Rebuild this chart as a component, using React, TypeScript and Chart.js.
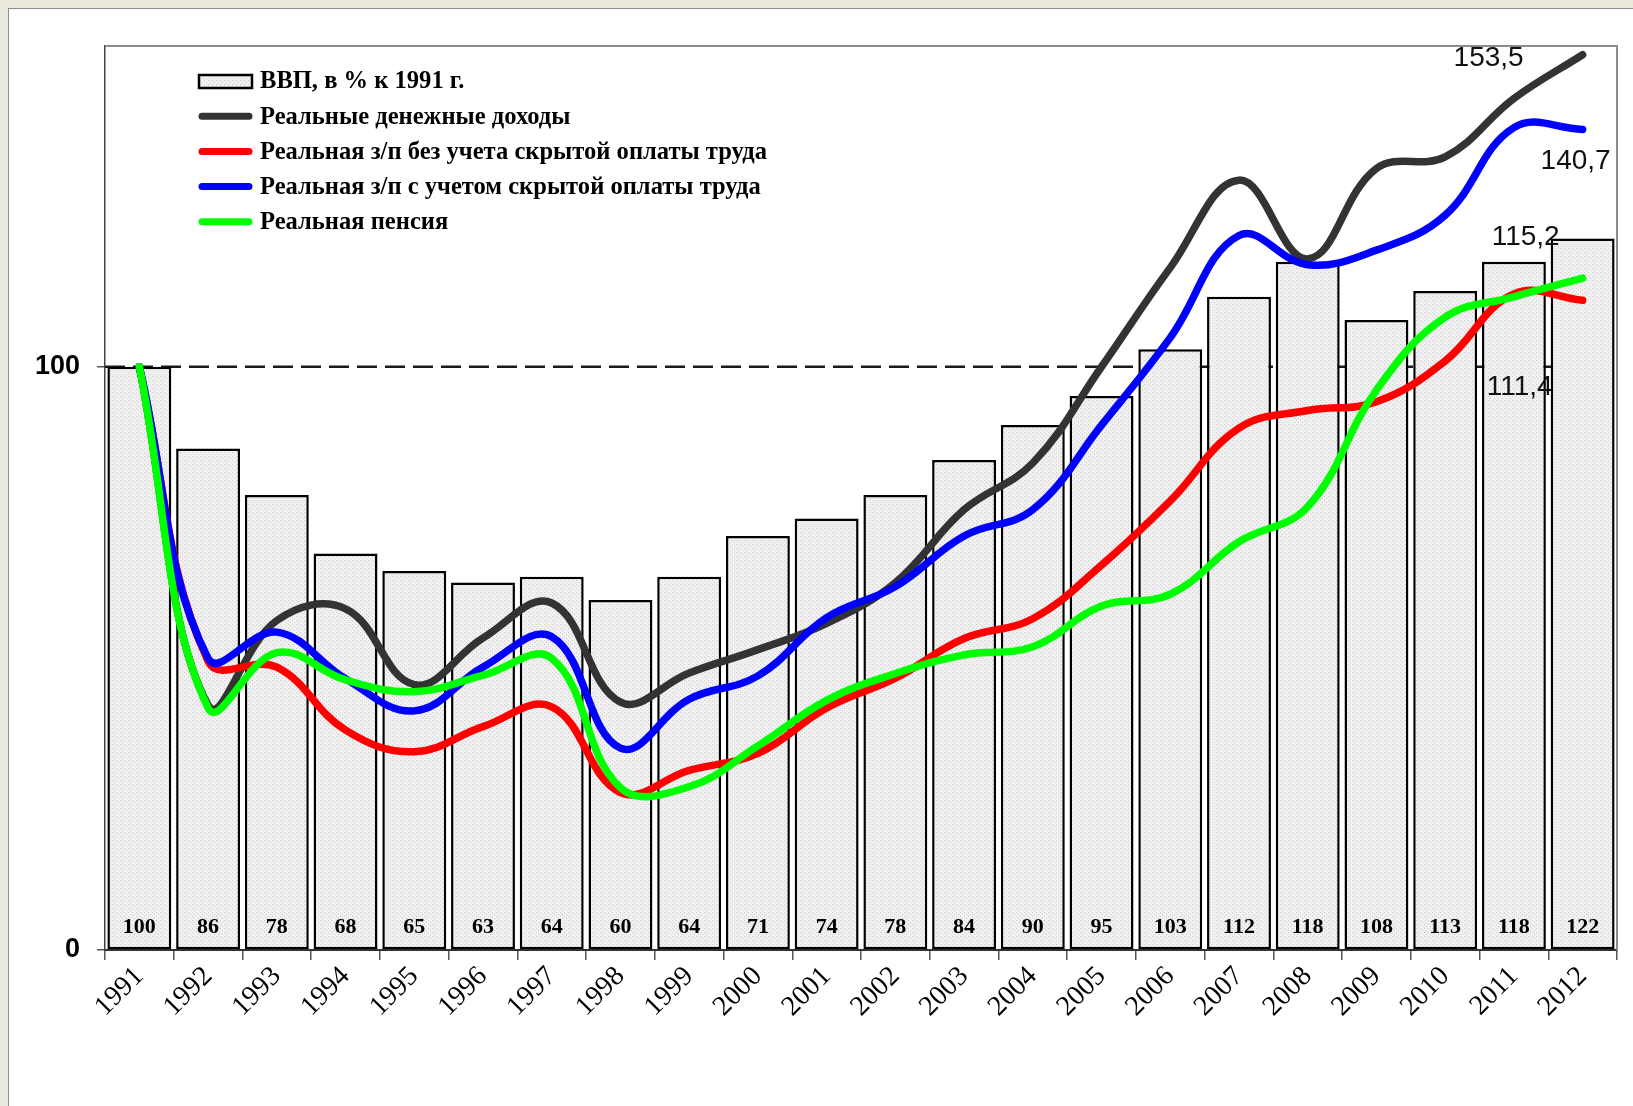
import React, { useEffect, useRef } from "react";
import { Chart, registerables } from "chart.js";

Chart.register(...registerables);

const years = ["1991", "1992", "1993", "1994", "1995", "1996", "1997", "1998", "1999", "2000", "2001", "2002", "2003", "2004", "2005", "2006", "2007", "2008", "2009", "2010", "2011", "2012"];
const gdp = [100, 86, 78, 68, 65, 63, 64, 60, 64, 71, 74, 78, 84, 90, 95, 103, 112, 118, 108, 113, 118, 122];
const incomes = [100, 42, 56.5, 58.5, 45.5, 53.5, 59.5, 42.5, 47.5, 51.5, 56, 63, 75.5, 83.5, 100, 117, 132, 118.5, 134, 136, 146, 153.5];
const wageNoHidden = [100, 49.5, 48.5, 37.7, 34, 38.3, 41.7, 27, 30.8, 33.7, 41.5, 46.6, 53.4, 56.8, 66, 77, 89.5, 92.5, 94, 101, 112.5, 111.4];
const wageHidden = [100, 50, 54.5, 46.5, 41, 48.5, 53.7, 34.6, 43, 47, 57, 62.3, 71, 75.5, 90, 105, 122.5, 117.5, 120, 126, 141, 140.7];
const pension = [100, 41.5, 51, 46.3, 44.3, 47.1, 50, 27.8, 28, 35, 42.8, 47.4, 50.6, 52, 59, 61, 70, 76, 96, 108.5, 112, 115.2];

const gdpLabel = "ВВП, в % к 1991 г.";
const incomesLabel = "Реальные денежные доходы";
const wageNoHiddenLabel = "Реальная з/п без учета скрытой оплаты труда";
const wageHiddenLabel = "Реальная з/п с учетом скрытой оплаты труда";
const pensionLabel = "Реальная пенсия";

const yTickValues = [0, 100];
const referenceLevel = 100;
const yMax = 155;

function makePattern(): CanvasPattern | string {
  const c = document.createElement("canvas");
  c.width = 4;
  c.height = 4;
  const g = c.getContext("2d");
  if (!g) return "#eaeaea";
  g.fillStyle = "#f1f1f1";
  g.fillRect(0, 0, 4, 4);
  g.fillStyle = "#cdcdcd";
  g.fillRect(0, 0, 1, 1);
  g.fillRect(2, 2, 1, 1);
  return g.createPattern(c, "repeat") || "#eaeaea";
}

const fmt = (v: number) => String(v).replace(".", ",");

export default function App() {
  const ref = useRef<HTMLCanvasElement | null>(null);

  useEffect(() => {
    const canvas = ref.current;
    if (!canvas) return;
    const pattern = makePattern();

    const backgroundPlugin = {
      id: "refLineAndFrame",
      beforeDatasetsDraw(chart: any) {
        const { ctx, chartArea, scales } = chart;
        ctx.save();
        ctx.strokeStyle = "#8c8c8c";
        ctx.lineWidth = 2;
        ctx.beginPath();
        ctx.moveTo(chartArea.left, chartArea.top);
        ctx.lineTo(chartArea.right, chartArea.top);
        ctx.lineTo(chartArea.right, chartArea.bottom);
        ctx.stroke();
        const y = scales.y.getPixelForValue(referenceLevel);
        ctx.strokeStyle = "#1a1a1a";
        ctx.lineWidth = 2.5;
        ctx.setLineDash([20, 8]);
        ctx.beginPath();
        ctx.moveTo(chartArea.left, y);
        ctx.lineTo(chartArea.right, y);
        ctx.stroke();
        ctx.restore();
      },
    };

    const labelsPlugin = {
      id: "labelsAndLegend",
      afterDatasetsDraw(chart: any) {
        const { ctx, chartArea } = chart;
        ctx.save();
        const barMeta = chart.getDatasetMeta(0);
        ctx.font = "bold 22px 'Liberation Serif', 'Times New Roman', serif";
        ctx.fillStyle = "#000";
        ctx.textAlign = "center";
        ctx.textBaseline = "middle";
        barMeta.data.forEach((el: any, i: number) => {
          ctx.fillText(String(gdp[i]), el.x, chartArea.bottom - 23);
        });

        const offsets: Record<number, [number, number]> = {
          1: [-94, 4],
          2: [-63, 87],
          3: [-7, 32],
          4: [-57, -41],
        };
        ctx.font = "28px 'Liberation Sans', Arial, sans-serif";
        ctx.fillStyle = "#111";
        Object.keys(offsets).forEach((k) => {
          const idx = Number(k);
          const meta = chart.getDatasetMeta(idx);
          const data = chart.data.datasets[idx].data as number[];
          const last = meta.data[meta.data.length - 1];
          const [dx, dy] = offsets[idx];
          ctx.fillText(fmt(data[data.length - 1]), last.x + dx, last.y + dy);
        });

        const x0 = 199;
        const x1 = 252;
        const tx = 260;
        const y0 = 81;
        const dyRow = 35.2;
        ctx.font = "bold 25px 'Liberation Serif', 'Times New Roman', serif";
        const labels = chart.data.datasets.map((d: any) => d.label as string);
        const maxW = Math.max(...labels.map((t: string) => ctx.measureText(t).width));
        const sx = 507 / maxW;
        chart.data.datasets.forEach((ds: any, i: number) => {
          const y = y0 + i * dyRow;
          if (i === 0) {
            ctx.fillStyle = pattern;
            ctx.fillRect(x0, y - 6, x1 - x0, 13);
            ctx.strokeStyle = "#000";
            ctx.lineWidth = 2.5;
            ctx.strokeRect(x0, y - 6, x1 - x0, 13);
          } else {
            ctx.strokeStyle = ds.borderColor;
            ctx.lineWidth = 7;
            ctx.lineCap = "round";
            ctx.beginPath();
            ctx.moveTo(x0 + 3, y);
            ctx.lineTo(x1 - 3, y);
            ctx.stroke();
          }
          ctx.save();
          ctx.translate(tx, y + 1);
          ctx.scale(sx, 1);
          ctx.fillStyle = "#000";
          ctx.textAlign = "left";
          ctx.textBaseline = "middle";
          ctx.fillText(ds.label, 0, 0);
          ctx.restore();
        });
        ctx.restore();
      },
    };

    const lineDs = (label: string, data: number[], color: string, order: number) => ({
      type: "line" as const,
      label,
      data,
      borderColor: color,
      backgroundColor: color,
      borderWidth: 7.5,
      pointRadius: 0,
      pointHoverRadius: 0,
      tension: 0.4,
      borderCapStyle: "round" as const,
      borderJoinStyle: "round" as const,
      fill: false,
      order,
    });

    const chart = new Chart(canvas, {
      type: "bar",
      data: {
        labels: years,
        datasets: [
          {
            type: "bar",
            label: gdpLabel,
            data: gdp,
            backgroundColor: pattern as any,
            borderColor: "#000",
            borderWidth: 2.5,
            borderSkipped: false,
            barPercentage: 0.93,
            categoryPercentage: 1,
            order: 5,
          } as any,
          lineDs(incomesLabel, incomes, "#333333", 4),
          lineDs(wageNoHiddenLabel, wageNoHidden, "#ff0000", 3),
          lineDs(wageHiddenLabel, wageHidden, "#0000ff", 2),
          lineDs(pensionLabel, pension, "#00ff00", 1),
        ],
      },
      options: {
        responsive: false,
        animation: false,
        devicePixelRatio: 1,
        layout: { padding: { top: 46, right: 16, left: 0, bottom: 0 } },
        plugins: {
          legend: { display: false },
          tooltip: { enabled: false },
          title: { display: false },
        },
        scales: {
          x: {
            offset: true,
            grid: {
              offset: true,
              drawOnChartArea: false,
              drawTicks: true,
              tickLength: 10,
              color: "#555",
              lineWidth: 1.5,
            },
            border: { display: true, color: "#333", width: 2 },
            ticks: {
              autoSkip: false,
              minRotation: 45,
              maxRotation: 45,
              padding: 0,
              color: "#000",
              font: { family: "'Liberation Serif', 'Times New Roman', serif", size: 28 },
            },
            afterFit(scale: any) {
              scale.height = 156;
            },
          },
          y: {
            min: 0,
            max: yMax,
            grid: {
              drawOnChartArea: false,
              drawTicks: true,
              tickLength: 8,
              color: "#555",
              lineWidth: 1.5,
            },
            border: { display: true, color: "#444", width: 1.5 },
            ticks: {
              padding: 17,
              color: "#000",
              font: { family: "'Liberation Sans', Arial, sans-serif", size: 27, weight: "bold" },
            },
            afterBuildTicks(scale: any) {
              scale.ticks = yTickValues.map((v) => ({ value: v }));
            },
            afterFit(scale: any) {
              scale.width = 105;
            },
          },
        },
      } as any,
      plugins: [backgroundPlugin, labelsPlugin],
    });

    return () => chart.destroy();
  }, []);

  return (
    <div style={{ position: "fixed", left: 0, top: 0, width: 1633, height: 1106, background: "#ECE9DF", overflow: "hidden" }}>
      <div
        style={{
          position: "absolute",
          left: 8,
          top: 8,
          right: 0,
          bottom: 0,
          background: "#fff",
          borderLeft: "1px solid #8e8e8e",
          borderTop: "1px solid #8e8e8e",
        }}
      />
      <canvas ref={ref} width={1633} height={1106} style={{ position: "absolute", left: 0, top: 0, width: 1633, height: 1106 }} />
    </div>
  );
}
